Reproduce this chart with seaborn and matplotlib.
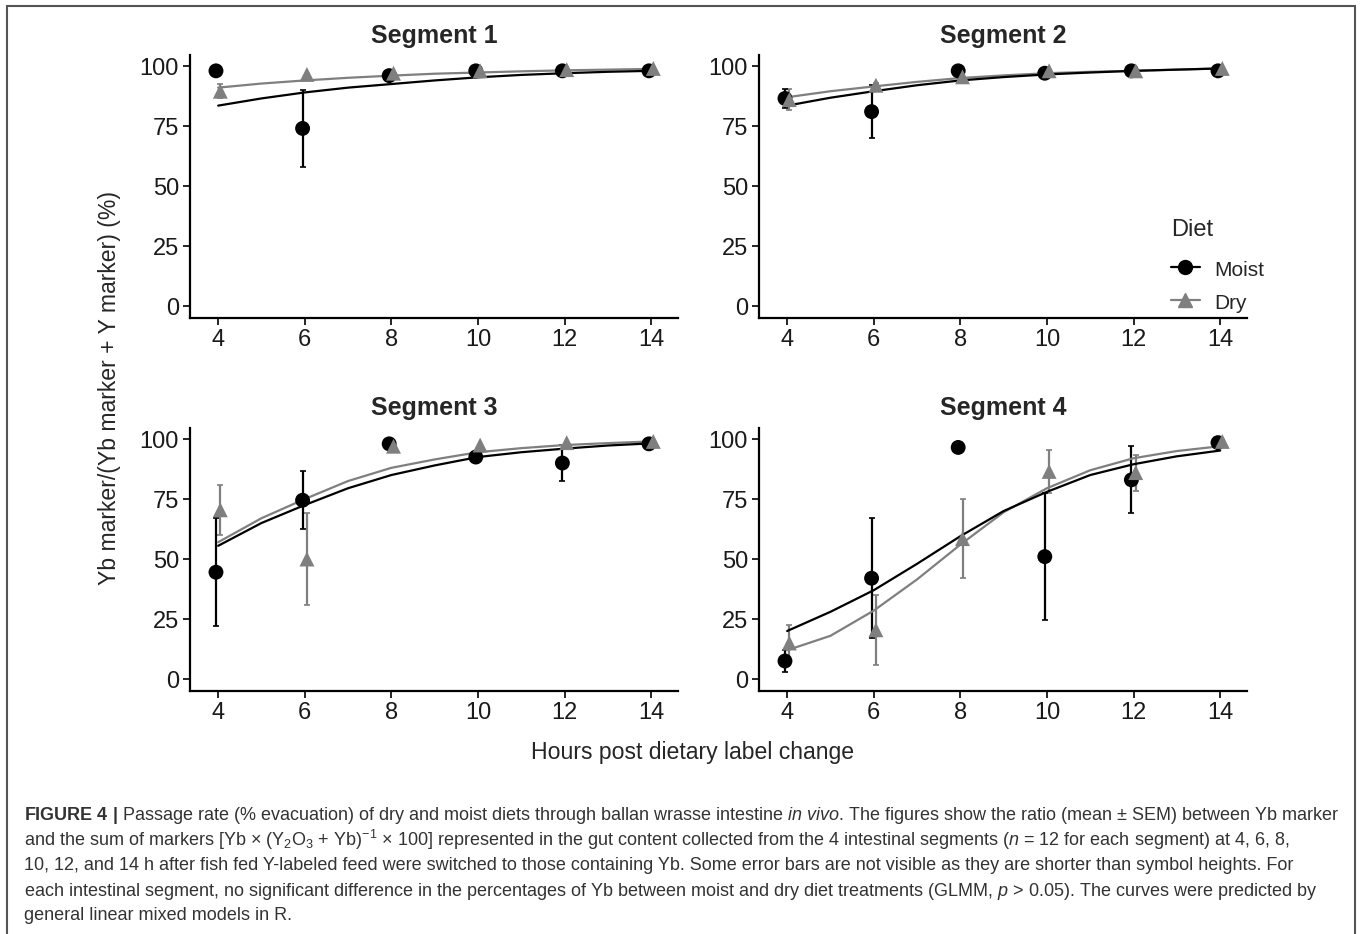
import numpy as np
import pandas as pd
import seaborn as sns
import matplotlib.pyplot as plt
from matplotlib.lines import Line2D
from matplotlib.patches import Rectangle

# Dados (média ± SEM e curvas previstas)
hours = [4, 6, 8, 10, 12, 14]
curve_hours = [4, 5, 6, 7, 8, 9, 10, 11, 12, 13, 14]
segments = ["Segment 1", "Segment 2", "Segment 3", "Segment 4"]
diets = ["Moist", "Dry"]

seg1_moist_mean = [98, 74, 96, 98, 98, 98]
seg1_moist_sem = [0, 16, 0, 0, 0, 0]
seg1_dry_mean = [89.5, 96.5, 97, 98, 98.5, 99]
seg1_dry_sem = [3, 0, 0, 0, 0, 0]
seg1_moist_curve = [83.5, 86.5, 89, 91, 92.5, 94, 95.3, 96.3, 97, 97.6, 98]
seg1_dry_curve = [91, 92.7, 94, 95.1, 96, 96.8, 97.3, 97.8, 98.2, 98.5, 98.8]

seg2_moist_mean = [86.5, 81, 98, 97, 98, 98]
seg2_moist_sem = [4, 11, 0, 0, 0, 0]
seg2_dry_mean = [86, 92, 95.5, 98, 98, 99]
seg2_dry_sem = [4.5, 1, 0, 0, 0, 0]
seg2_moist_curve = [83.5, 86.8, 89.5, 92, 94, 95.4, 96.5, 97.3, 98, 98.5, 99]
seg2_dry_curve = [87, 89.5, 91.5, 93.4, 95, 96.1, 97, 97.6, 98, 98.5, 99]

seg3_moist_mean = [44.5, 74.5, 98, 92.5, 90, 98]
seg3_moist_sem = [22.5, 12, 0, 2.5, 7.5, 0]
seg3_dry_mean = [70.5, 50, 97, 97.5, 98.5, 99]
seg3_dry_sem = [10.5, 19, 0, 0, 0, 0]
seg3_moist_curve = [55.5, 65, 72.5, 79.5, 85, 89, 92.5, 94.5, 96, 97.3, 98.2]
seg3_dry_curve = [57, 67, 75, 82.5, 88, 91.5, 94.5, 96.2, 97.5, 98.3, 99]

seg4_moist_mean = [7.5, 42, 96.5, 51, 83, 98.5]
seg4_moist_sem = [4.5, 25, 0, 26.5, 14, 0]
seg4_dry_mean = [15, 20.5, 58.5, 86.5, 86, 99]
seg4_dry_sem = [7.5, 14.5, 16.5, 9, 7.5, 0]
seg4_moist_curve = [20, 28, 37, 48, 59.5, 70, 78, 85, 89.5, 92.8, 95.2]
seg4_dry_curve = [12, 18, 28.5, 41.5, 56, 69.5, 79.5, 87, 92, 95, 97]

means = {
    "Segment 1": (seg1_moist_mean, seg1_moist_sem, seg1_dry_mean, seg1_dry_sem),
    "Segment 2": (seg2_moist_mean, seg2_moist_sem, seg2_dry_mean, seg2_dry_sem),
    "Segment 3": (seg3_moist_mean, seg3_moist_sem, seg3_dry_mean, seg3_dry_sem),
    "Segment 4": (seg4_moist_mean, seg4_moist_sem, seg4_dry_mean, seg4_dry_sem),
}
curves = {
    "Segment 1": (seg1_moist_curve, seg1_dry_curve),
    "Segment 2": (seg2_moist_curve, seg2_dry_curve),
    "Segment 3": (seg3_moist_curve, seg3_dry_curve),
    "Segment 4": (seg4_moist_curve, seg4_dry_curve),
}

# Montar as tabelas longas
rows = []
crows = []
for seg in segments:
    mm, ms, dm, ds = means[seg]
    for i, h in enumerate(hours):
        rows.append({"segment": seg, "diet": "Moist", "hour": h, "mean": mm[i], "sem": ms[i]})
        rows.append({"segment": seg, "diet": "Dry", "hour": h, "mean": dm[i], "sem": ds[i]})
    mc, dc = curves[seg]
    for i, h in enumerate(curve_hours):
        crows.append({"segment": seg, "diet": "Moist", "hour": h, "pred": mc[i]})
        crows.append({"segment": seg, "diet": "Dry", "hour": h, "pred": dc[i]})
pts = pd.DataFrame(rows)
crv = pd.DataFrame(crows)

# pequeno deslocamento horizontal (dodge) entre as dietas
pts["xpos"] = pts["hour"] + pts["diet"].map({"Moist": -0.05, "Dry": 0.05})

cores = {"Moist": "black", "Dry": "#7f7f7f"}
marcadores = {"Moist": "o", "Dry": "^"}

sns.set_theme(style="ticks")
plt.rcParams["font.family"] = ["Liberation Sans", "DejaVu Sans"]
plt.rcParams["mathtext.fontset"] = "custom"
plt.rcParams["mathtext.rm"] = "Liberation Sans"
plt.rcParams["mathtext.it"] = "Liberation Sans:italic"
plt.rcParams["mathtext.bf"] = "Liberation Sans:bold"

fig = plt.figure(figsize=(13.6, 9.34), dpi=100)
W, H = 1360, 934

# posições dos painéis em pixels (esquerda, topo)
posicoes = {"Segment 1": (190, 55), "Segment 2": (759, 55),
            "Segment 3": (190, 428), "Segment 4": (759, 428)}
aw, ah = 488, 263

for seg in segments:
    x0, y0 = posicoes[seg]
    ax = fig.add_axes([x0 / W, 1 - (y0 + ah) / H, aw / W, ah / H])
    sub = pts[pts["segment"] == seg]
    csub = crv[crv["segment"] == seg]

    for diet in ["Dry", "Moist"]:
        d = sub[sub["diet"] == diet]
        ax.errorbar(d["xpos"], d["mean"], yerr=d["sem"], fmt="none",
                    ecolor=cores[diet], elinewidth=1.6, capsize=2, capthick=1.2, zorder=2)

    sns.lineplot(data=csub, x="hour", y="pred", hue="diet", palette=cores,
                 hue_order=["Dry", "Moist"], linewidth=1.6, legend=False, ax=ax, zorder=3)
    sns.scatterplot(data=sub, x="xpos", y="mean", hue="diet", style="diet",
                    palette=cores, markers=marcadores, hue_order=["Dry", "Moist"],
                    s=115, linewidth=0, legend=False, ax=ax, zorder=4)

    ax.set_xlim(3.35, 14.62)
    ax.set_ylim(-5, 104.6)
    ax.set_xticks([4, 6, 8, 10, 12, 14])
    ax.set_yticks([0, 25, 50, 75, 100])
    ax.set_xlabel("")
    ax.set_ylabel("")
    ax.tick_params(labelsize=17, length=5, width=1.2, color="black", labelcolor="#1a1a1a", pad=3)
    for s in ["left", "bottom"]:
        ax.spines[s].set_linewidth(1.6)
        ax.spines[s].set_color("black")
    sns.despine(ax=ax)
    ax.set_title(seg, fontsize=18, fontweight="bold", pad=9)

# Legenda
handles = [Line2D([0], [0], color=cores[d], marker=marcadores[d], markersize=10,
                  linewidth=1.6) for d in diets]
leg = fig.legend(handles, diets, title="Diet", loc="upper left",
                 bbox_to_anchor=(1152 / W, 1 - 200 / H), frameon=False,
                 fontsize=15, title_fontsize=17, handlelength=1.4, handletextpad=0.7,
                 handleheight=1.3, labelspacing=0.5, alignment="left")
leg._legend_box.sep = 12

# Rótulos dos eixos
fig.text(110 / W, 1 - 388 / H, "Yb marker/(Yb marker + Y marker) (%)", rotation=90,
         ha="center", va="center", fontsize=16.6)
fig.text(693 / W, 1 - 753 / H, "Hours post dietary label change",
         ha="center", va="center", fontsize=16.6)

# Legenda da figura
linhas = [
    r"$\mathbf{FIGURE\ 4\ |}$ Passage rate (% evacuation) of dry and moist diets through ballan wrasse intestine $\mathit{in\ vivo}$. The figures show the ratio (mean $\pm$ SEM) between Yb marker",
    r"and the sum of markers [Yb $\times$ ($\mathrm{Y_2O_3}$ + Yb)$^{-1}$ $\times$ 100] represented in the gut content collected from the 4 intestinal segments ($\mathit{n}$ = 12 for each segment) at 4, 6, 8,",
    "10, 12, and 14 h after fish fed Y-labeled feed were switched to those containing Yb. Some error bars are not visible as they are shorter than symbol heights. For",
    r"each intestinal segment, no significant difference in the percentages of Yb between moist and dry diet treatments (GLMM, $\mathit{p}$ > 0.05). The curves were predicted by",
    "general linear mixed models in R.",
]
ys = [815, 840, 866, 891, 916]
for txt, y in zip(linhas, ys):
    fig.text(24 / W, 1 - y / H, txt, ha="left", va="center", fontsize=13.0, color="#333333")

# Moldura
fig.patches.append(Rectangle((7 / W, -0.01), (1355 - 7) / W, 1 - 6 / H + 0.01,
                             transform=fig.transFigure, fill=False,
                             edgecolor="#555555", linewidth=1.5))

plt.savefig("out.png", dpi=100)
